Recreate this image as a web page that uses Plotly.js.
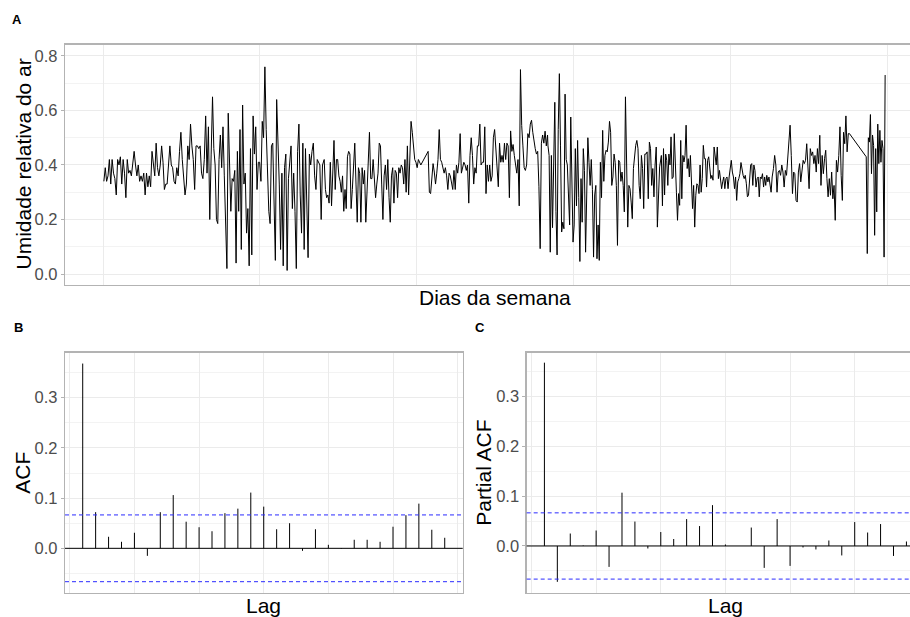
<!DOCTYPE html>
<html>
<head>
<meta charset="utf-8">
<script src="https://cdn.plot.ly/plotly-3.0.1.min.js"></script>
<style>
html,body{margin:0;padding:0;overflow:hidden;background:#fff;width:910px;height:617px}
#chart{width:925px;height:617px}
</style>
</head>
<body>
<div id="chart"></div>
<script>
// ---------- DATA ----------
// Panel A: relative humidity series, in observation blocks (day index since start)
const rhBlock1 = [0.34,0.39,0.34,0.36,0.42,0.33,0.42,0.37,0.35,0.29,0.42,0.40,0.43,0.33,0.42,0.37,0.28,0.42,0.37,0.38,
0.36,0.41,0.45,0.40,0.36,0.40,0.34,0.36,0.34,0.37,0.29,0.37,0.32,0.36,0.32,0.45,0.40,0.36,0.48,0.39,
0.36,0.40,0.47,0.41,0.31,0.33,0.33,0.42,0.47,0.40,0.39,0.34,0.33,0.39,0.36,0.45,0.52,0.42,0.34,0.29,
0.33,0.47,0.42,0.55,0.47,0.42,0.31,0.47,0.47,0.46,0.47,0.37,0.35,0.42,0.58,0.37,0.54,0.20,0.44,0.65];
const rhBlock2 = [0.46,0.40,0.20,0.185,0.42,0.51,0.39,0.54,0.36,0.20,0.02,0.59,0.42,0.23,0.35,0.34,0.38,0.04,0.45,0.23,
0.53,0.09,0.62,0.33,0.37,0.15,0.24,0.03,0.46,0.07,0.58,0.44,0.54,0.31,0.41,0.41,0.34,0.56,0.50,0.76,
0.53,0.33,0.23,0.185,0.47,0.48,0.23,0.05,0.64,0.50,0.33,0.09,0.37,0.03,0.39,0.44,0.013,0.35,0.43,0.47,
0.24,0.37,0.23,0.02,0.45,0.55,0.29,0.15,0.48,0.09,0.46,0.24,0.06,0.44,0.40,0.45,0.48,0.36,0.31,0.42,
0.41,0.40,0.20,0.40];
const rhBlock3 = [0.42,0.31,0.28,0.29,0.26,0.41,0.25,0.42,0.49,0.31,0.42,0.42,0.36,0.34,0.30,0.36,0.23,0.31,0.24,0.43,
0.45,0.44,0.24,0.31,0.42,0.48,0.33,0.19,0.39,0.37,0.19,0.39,0.33,0.38,0.19,0.31,0.36,0.52,0.35,0.35,
0.42,0.36,0.28,0.33,0.37,0.48,0.47,0.33,0.20,0.36,0.40,0.31,0.42,0.28,0.19,0.36,0.39,0.26,0.38,0.37,
0.28,0.39,0.37,0.40,0.39,0.33,0.42,0.30,0.47,0.29,0.45,0.56,0.52,0.47,0.42,0.41,0.39,0.42,0.41,0.40];
const rhBlock4 = [0.45,0.30,0.295,0.356,0.405,0.374,
0.33,0.37,0.42,0.53,0.42,0.41,0.39,0.37,0.39,0.36,0.31,0.37,0.36,0.34,0.31,0.38,0.31,0.40,0.37,0.41,
0.515,0.37,0.39,0.41,0.40,0.38,0.40,0.26,0.435,0.50,0.435,0.33,0.39,0.37,0.47,0.47,0.55,0.40,0.41,0.41,
0.54,0.295,0.40,0.34,0.40,0.34,0.36,0.50,0.53,0.45,0.37,0.32,0.48,0.41,0.435,0.41,0.48,0.42,0.48,0.47,
0.28,0.525,0.45,0.475,0.435,0.39,0.37,0.42,0.25,0.75,0.545,0.47,0.39,0.38,0.40,0.515,0.50,0.55,0.564,0.52,
0.48,0.46,0.44,0.45,0.32,0.093,0.48,0.51,0.48,0.524,0.47,0.51];
const rhBlock5 = [0.47,0.435,0.08,0.435,0.17,0.41,0.63,0.23,0.07,0.53,0.735,0.47,0.154,0.19,0.166,0.66,0.42,0.40,0.25,0.18,
0.576,0.25,0.117,0.18,0.46,0.25,0.49,0.28,0.046,0.35,0.19,0.46,0.38,0.08,0.24,0.50,0.41,0.325,0.42,0.31,
0.062,0.29,0.325,0.056,0.18,0.05,0.41,0.28,0.527,0.34,0.435,0.454,0.448,0.484,0.56,0.52,0.325,0.356,0.44,0.41,
0.325,0.105,0.417,0.41,0.34,0.374,0.325,0.228,0.65,0.35,0.172,0.325,0.313,0.264,0.203,0.387,0.448,0.472,0.49,0.46,
0.325,0.276,0.435,0.387,0.24,0.44,0.44,0.448,0.276,0.484,0.46,0.325,0.387,0.283,0.40,0.466,0.172,0.289,0.393];
const rhBlock6 = [0.435,0.25,0.46,0.29,0.44,0.417,0.325,0.44,0.40,0.503,0.35,0.356,0.515,0.35,0.30,0.197,0.295,0.252,0.49,0.276,
0.435,0.411,0.435,0.546,0.387,0.423,0.356,0.435,0.30,0.24,0.325,0.172,0.289,0.331,0.325,0.295,0.40,0.30,0.35,0.472,
0.423,0.423,0.319,0.417,0.43,0.40,0.35,0.362,0.344,0.466,0.423,0.40,0.466,0.35,0.38,0.344,0.313,0.338,0.356,0.313,
0.35,0.356,0.313,0.356,0.393,0.417,0.374,0.356,0.313,0.356,0.27,0.338,0.35,0.368,0.409,0.374,0.362,0.35,0.362,0.331,
0.283,0.289,0.356,0.40,0.405,0.325,0.40,0.38,0.319,0.35,0.356,0.283,0.356,0.35,0.368,0.319,0.356,0.325,0.362,0.338,
0.356,0.331,0.30,0.356];
const rhBlock7 = [0.387,0.435,0.40,0.30,0.374,0.38,0.362,0.40,0.374,0.319,0.38,0.362,0.417,0.466,0.546,0.435,0.295,0.374,0.368,0.27,
0.264,0.374,0.405,0.338,0.38,0.417,0.405,0.417,0.478,0.387,0.313,0.46,0.435,0.448,0.405,0.435,0.374,0.46,0.405,0.509,
0.325,0.435,0.368,0.423,0.454,0.35,0.283,0.35,0.289,0.374,0.276,0.325,0.197,0.417,0.374,0.435,0.54,0.362,0.27,0.52,
0.478,0.58,0.448,0.515,0.515];
const rhBlock8 = [0.43,0.075,0.50,0.484,0.585,0.368,0.51,0.472,0.142,0.46,0.228,0.55,0.405,0.527,0.41,0.49,0.46,0.062,0.73];
const blockStartDay = [2, 258, 515, 757, 1036, 1300, 1561, 1777];
const blockEndDay   = [255, 511, 740, 1035, 1296, 1558, 1738, 1821];
const yearBreakDays = [0, 365, 730, 1096, 1461, 1826];

// Panels B and C: autocorrelation
const lags = [1,2,3,4,5,6,7,8,9,10,11,12,13,14,15,16,17,18,19,20,21,22,23,24,25,26,27,28,29];
const acfValues = [0.368,0.072,0.023,0.013,0.031,-0.015,0.072,0.106,0.053,0.042,0.034,0.070,0.079,0.111,0.083,
0.038,0.050,-0.005,0.038,0.007,-0.001,0.017,0.017,0.013,0.043,0.066,0.089,0.037,0.021];
const pacfValues = [0.368,-0.072,0.025,0.001,0.031,-0.042,0.107,0.049,-0.005,0.028,0.014,0.054,0.040,0.082,0.003,
0.000,0.037,-0.044,0.054,-0.040,-0.003,-0.007,0.011,-0.019,0.048,0.027,0.044,-0.020,0.009];
const ciBound = 0.0665;

// ---------- BUILD ----------
const W = 925, H = 617;
const px = v => v / W, py = v => 1 - v / H;

const rhBlocks = [rhBlock1, rhBlock2, rhBlock3, rhBlock4, rhBlock5, rhBlock6, rhBlock7, rhBlock8];
const tsX = [], tsY = [];
rhBlocks.forEach((vals, b) => {
  const s = blockStartDay[b], e = blockEndDay[b], n = vals.length;
  vals.forEach((v, i) => { tsX.push(s + (e - s) * i / (n - 1)); tsY.push(v); });
});

function stems(l, vals) {
  const x = [], y = [];
  l.forEach((lag, i) => { x.push(lag, lag, null); y.push(0, vals[i], null); });
  return {x, y};
}
const acfS = stems(lags, acfValues);
const pacfS = stems(lags, pacfValues);

const FONT = '"Liberation Sans", Arial, Helvetica, sans-serif';
const traces = [
  {x: tsX, y: tsY, type: 'scatter', mode: 'lines', line: {color: '#000', width: 1}, xaxis: 'x', yaxis: 'y', hoverinfo: 'skip'},
  {x: acfS.x, y: acfS.y, type: 'scatter', mode: 'lines', line: {color: '#000', width: 1}, xaxis: 'x2', yaxis: 'y2', hoverinfo: 'skip'},
  {x: pacfS.x, y: pacfS.y, type: 'scatter', mode: 'lines', line: {color: '#000', width: 1}, xaxis: 'x3', yaxis: 'y3', hoverinfo: 'skip'}
];

const border = {showline: true, mirror: true, linecolor: '#b3b3b3', linewidth: 1.3};
const gridMaj = {showgrid: true, gridcolor: '#ebebeb', gridwidth: 1};
const yCommon = Object.assign({}, border, gridMaj, {
  zeroline: false, ticks: 'outside', ticklen: 3, tickwidth: 1, tickcolor: '#b3b3b3',
  tickfont: {family: FONT, size: 16.5, color: '#4d4d4d'}, tickformat: '.1f', tickmode: 'linear', tick0: 0
});
const xLag = Object.assign({}, border, gridMaj, {
  zeroline: false, showticklabels: false, ticks: '', tickmode: 'linear', tick0: 0, dtick: 5, range: [-0.37, 30.39]
});

function hline(xr, yr, y, color, dash) {
  return {type: 'line', xref: xr + ' domain', x0: 0, x1: 1, yref: yr, y0: y, y1: y,
          line: {color: color, width: 1, dash: dash || 'solid'}, layer: 'above'};
}

const layout = {
  width: W, height: H,
  margin: {l: 0, r: 0, t: 0, b: 0},
  paper_bgcolor: '#fff', plot_bgcolor: '#fff',
  showlegend: false,
  font: {family: FONT, color: '#000'},
  xaxis: Object.assign({}, border, gridMaj, {
    domain: [px(65), px(924)], anchor: 'y', range: [-88.5, 1911.5],
    tickmode: 'array', tickvals: yearBreakDays, showticklabels: false, ticks: '', zeroline: false
  }),
  yaxis: Object.assign({}, yCommon, {
    domain: [py(284.5), py(44.5)], anchor: 'x', range: [-0.0385, 0.842], dtick: 0.2,
    minor: {dtick: 0.1, tick0: 0, showgrid: true, gridcolor: '#f3f3f3', gridwidth: 1, ticks: ''}
  }),
  xaxis2: Object.assign({}, xLag, {domain: [px(65), px(462.7)], anchor: 'y2'}),
  yaxis2: Object.assign({}, yCommon, {
    domain: [py(592.7), py(352.7)], anchor: 'x2', range: [-0.0884, 0.3896], dtick: 0.1,
    minor: {dtick: 0.05, tick0: 0, showgrid: true, gridcolor: '#f3f3f3', gridwidth: 1, ticks: ''}
  }),
  xaxis3: Object.assign({}, xLag, {domain: [px(526.7), px(924.4)], anchor: 'y3'}),
  yaxis3: Object.assign({}, yCommon, {
    domain: [py(592.7), py(352.7)], anchor: 'x3', range: [-0.0938, 0.388], dtick: 0.1,
    minor: {dtick: 0.05, tick0: 0, showgrid: true, gridcolor: '#f3f3f3', gridwidth: 1, ticks: ''}
  }),
  shapes: [
    hline('x2', 'y2', 0, '#000'),
    hline('x2', 'y2', ciBound, '#2b2bff', '4px,3px'),
    hline('x2', 'y2', -ciBound, '#2b2bff', '4px,3px'),
    hline('x3', 'y3', 0, '#000'),
    hline('x3', 'y3', ciBound, '#2b2bff', '4px,3px'),
    hline('x3', 'y3', -ciBound, '#2b2bff', '4px,3px')
  ],
  annotations: [
    {text: '<b>A</b>', x: px(16.5), y: py(19.5), xref: 'paper', yref: 'paper', xanchor: 'center', yanchor: 'middle', showarrow: false, font: {size: 13, family: FONT}},
    {text: '<b>B</b>', x: px(18), y: py(327.5), xref: 'paper', yref: 'paper', xanchor: 'center', yanchor: 'middle', showarrow: false, font: {size: 13, family: FONT}},
    {text: '<b>C</b>', x: px(480), y: py(327.5), xref: 'paper', yref: 'paper', xanchor: 'center', yanchor: 'middle', showarrow: false, font: {size: 13, family: FONT}},
    {text: 'Umidade relativa do ar', x: px(23), y: py(164.5), xref: 'paper', yref: 'paper', xanchor: 'center', yanchor: 'middle', textangle: -90, showarrow: false, font: {size: 21, family: FONT}},
    {text: 'Dias da semana', x: px(494.5), y: py(298), xref: 'paper', yref: 'paper', xanchor: 'center', yanchor: 'middle', showarrow: false, font: {size: 21, family: FONT}},
    {text: 'ACF', x: px(23), y: py(472.7), xref: 'paper', yref: 'paper', xanchor: 'center', yanchor: 'middle', textangle: -90, showarrow: false, font: {size: 21, family: FONT}},
    {text: 'Partial ACF', x: px(484), y: py(472.7), xref: 'paper', yref: 'paper', xanchor: 'center', yanchor: 'middle', textangle: -90, showarrow: false, font: {size: 21, family: FONT}},
    {text: 'Lag', x: px(263.9), y: py(605), xref: 'paper', yref: 'paper', xanchor: 'center', yanchor: 'middle', showarrow: false, font: {size: 21, family: FONT}},
    {text: 'Lag', x: px(725.5), y: py(605), xref: 'paper', yref: 'paper', xanchor: 'center', yanchor: 'middle', showarrow: false, font: {size: 21, family: FONT}}
  ]
};

Plotly.newPlot('chart', traces, layout, {staticPlot: true, displayModeBar: false});
</script>
</body>
</html>
